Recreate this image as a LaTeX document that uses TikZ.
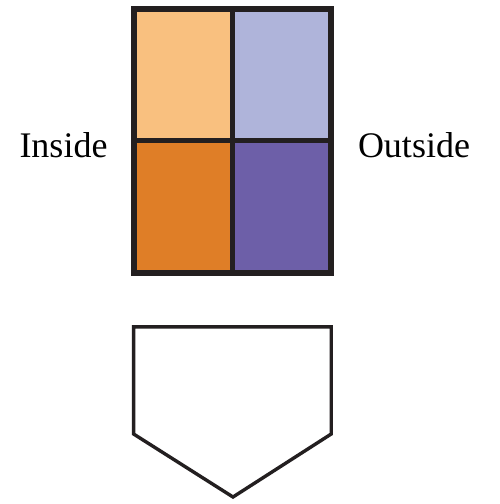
\documentclass[tikz,border=0pt]{standalone}
\usepackage{fontspec}
\setmainfont{Liberation Serif}
\definecolor{inkc}{HTML}{231F20}
\definecolor{tlc}{HTML}{F9C07F}
\definecolor{trc}{HTML}{AFB4DA}
\definecolor{blc}{HTML}{DF7E27}
\definecolor{brc}{HTML}{6D5FA8}
\tikzset{
  gridline/.style={draw=inkc, line width=5.5pt},
  outlineshape/.style={draw=inkc, line width=3.4pt, line join=miter, fill=white},
  sidetext/.style={font=\rmfamily\fontsize{36}{40}\selectfont, anchor=base, inner sep=0pt, text=black}
}
\begin{document}
\begin{tikzpicture}[x=1pt,y=-1pt]
\useasboundingbox (0,0) rectangle (500,504);
\fill[white] (0,0) rectangle (500,504);
% cells
\fill[tlc] (133.8,8.8) rectangle (232.7,140.7);
\fill[trc] (232.7,8.8) rectangle (331.2,140.7);
\fill[blc] (133.8,140.7) rectangle (232.7,273.2);
\fill[brc] (232.7,140.7) rectangle (331.2,273.2);
\draw[gridline] (133.8,8.8) rectangle (331.2,273.2);
\draw[gridline] (232.7,8.8) -- (232.7,273.2);
\draw[gridline] (133.8,140.7) -- (331.2,140.7);
% pentagon
\draw[outlineshape] (133.6,326.8) -- (331.2,326.8) -- (331.2,434) -- (233,497) -- (133.6,434) -- cycle;
% labels
\node[sidetext] (inside) at (63.5,157) {Inside};
\node[sidetext] (outside) at (414,157) {Outside};
\end{tikzpicture}
\end{document}
